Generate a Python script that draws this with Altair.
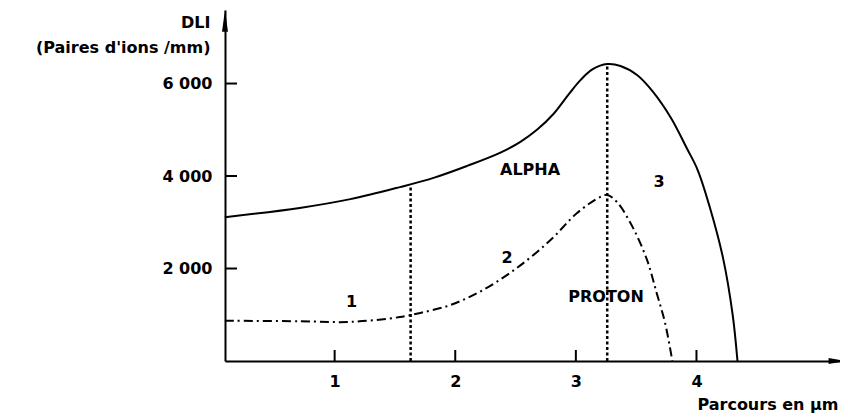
import altair as alt
import pandas as pd

# ---- data ----
alpha_x = [0.09, 0.71, 1.13, 1.54, 1.82, 2.10, 2.37, 2.54, 2.68, 2.81, 2.95, 3.04, 3.14, 3.26,
           3.37, 3.51, 3.64, 3.79, 3.92, 4.01, 4.11, 4.22, 4.30, 4.34]
alpha_y = [3110, 3310, 3500, 3760, 3960, 4220, 4500, 4740, 5005, 5330, 5800, 6080, 6310, 6420,
           6380, 6180, 5820, 5250, 4600, 4130, 3330, 2230, 1000, 0]

proton_x = [0.09, 0.71, 1.13, 1.54, 1.71, 1.96, 2.23, 2.51, 2.79, 3.01, 3.20, 3.26,
            3.34, 3.47, 3.59, 3.67, 3.74, 3.80]
proton_y = [870, 860, 845, 950, 1040, 1210, 1535, 2010, 2615, 3200, 3545, 3590,
            3440, 2900, 2185, 1470, 820, 0]

guide_x = [1.63, 3.26]
guide_top = [3800, 6420]

x_ticks = [1, 2, 3, 4]
y_ticks = [2000, 4000, 6000]
y_tick_labels = ["2 000", "4 000", "6 000"]

label_text = ["1", "2", "3", "ALPHA", "PROTON"]
label_x = [1.14, 2.43, 3.69, 2.62, 3.25]
label_y = [1280, 2230, 3870, 4130, 1390]

x_title = "Parcours en μm"
y_title = ["DLI", "(Paires d'ions /mm)"]

X_DOMAIN = [0.091, 5.19]
Y_DOMAIN = [0, 7590]
FONT = "DejaVu Sans"
FS = 16
W, H = 615, 351

xs = alt.Scale(domain=X_DOMAIN, nice=False, zero=False)
ys = alt.Scale(domain=Y_DOMAIN, nice=False, zero=False)

y_label_expr = " : ".join(
    f"datum.value == {v} ? '{t}'" for v, t in zip(y_ticks, y_tick_labels)
) + " : ''"

x_axis = alt.Axis(values=x_ticks, format="d", tickSize=0, labelPadding=12,
                  domainWidth=2, domainColor="black", grid=False,
                  labelFont=FONT, labelFontSize=FS, labelFontWeight="bold", labelColor="black",
                  title=x_title, titleFont=FONT, titleFontSize=FS, titleFontWeight="bold",
                  titleColor="black", titleX=613, titleY=48, titleAlign="right",
                  titleBaseline="alphabetic")
y_axis = alt.Axis(values=y_ticks, labelExpr=y_label_expr, tickSize=0, labelPadding=13,
                  domainWidth=2, domainColor="black", grid=False,
                  labelFont=FONT, labelFontSize=FS, labelFontWeight="bold", labelColor="black",
                  title=y_title, titleFont=FONT, titleFontSize=FS, titleFontWeight="bold",
                  titleColor="black", titleAngle=0, titleAlign="right", titleX=-15, titleY=17,
                  titleBaseline="alphabetic", titleLineHeight=25)

X = alt.X("x:Q", scale=xs, axis=x_axis)
Y = alt.Y("y:Q", scale=ys, axis=y_axis)

alpha_df = pd.DataFrame({"x": alpha_x, "y": alpha_y})
proton_df = pd.DataFrame({"x": proton_x, "y": proton_y})
guide_df = pd.DataFrame({"x": guide_x, "y": [0] * len(guide_x), "top": guide_top})
xt_df = pd.DataFrame({"x": x_ticks})
yt_df = pd.DataFrame({"y": y_ticks})
lab_df = pd.DataFrame({"x": label_x, "y": label_y, "t": label_text})
arrow_up_df = pd.DataFrame({"x": [X_DOMAIN[0]], "y": [7360]})
arrow_right_df = pd.DataFrame({"x": [5.17], "y": [0]})

alpha = alt.Chart(alpha_df).mark_line(color="black", strokeWidth=2, interpolate="catmull-rom").encode(x=X, y=Y)
proton = alt.Chart(proton_df).mark_line(color="black", strokeWidth=2, interpolate="catmull-rom",
                                        strokeDash=[9, 4, 2, 4]).encode(x=X, y=Y)
guides = alt.Chart(guide_df).mark_rule(color="black", strokeWidth=2.5, strokeDash=[3, 2.5]).encode(
    x=X, y=Y, y2="top:Q")
xticks = alt.Chart(xt_df).mark_rule(color="black", strokeWidth=2).encode(
    x=X, y=alt.value(H), y2=alt.value(H - 11))
yticks = alt.Chart(yt_df).mark_rule(color="black", strokeWidth=2).encode(
    y=Y, x=alt.value(0), x2=alt.value(12))
arrow_up = alt.Chart(arrow_up_df).mark_point(
    shape="M0,-1L0.27,1L-0.27,1Z", size=484, filled=True, color="black", opacity=1).encode(x=X, y=Y)
arrow_right = alt.Chart(arrow_right_df).mark_point(
    shape="M1,0L-1,-0.33L-1,0.33Z", size=324, filled=True, color="black", opacity=1).encode(x=X, y=Y)
labels = alt.Chart(lab_df).mark_text(font=FONT, fontSize=FS, fontWeight="bold", color="black",
                                     align="center", baseline="middle").encode(x=X, y=Y, text="t:N")

chart = alt.layer(alpha, proton, guides, xticks, yticks, arrow_up, arrow_right, labels).properties(
    width=W, height=H,
    autosize=alt.AutoSizeParams(type="none"),
    padding={"left": 217, "top": 2, "right": 0, "bottom": 56},
    background="white",
).configure_view(stroke=None)

chart.save("out.html", embed_options={"renderer": "svg", "actions": False})
